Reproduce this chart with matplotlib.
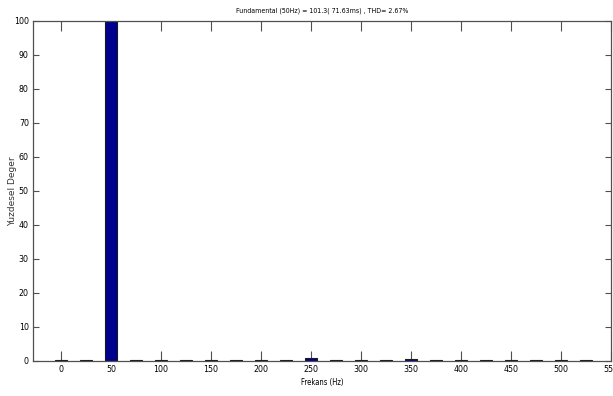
import matplotlib
matplotlib.use("Agg")
import matplotlib.pyplot as plt

freqs = [0, 25, 50, 75, 100, 125, 150, 175, 200, 225, 250, 275, 300, 325,
         350, 375, 400, 425, 450, 475, 500, 525]
values = [0.3, 0.2, 100.0, 0.2, 0.2, 0.2, 0.3, 0.2, 0.2, 0.2, 1.0, 0.2, 0.2, 0.2,
          0.6, 0.2, 0.2, 0.2, 0.2, 0.2, 0.2, 0.2]
xticks = list(range(0, 551, 50))
yticks = list(range(0, 101, 10))
title = "Fundamental (50Hz) = 101.3( 71.63ms) , THD= 2.67%"

fp = dict(fontfamily="DejaVu Sans", fontstretch="condensed")

fig = plt.figure(figsize=(6.13, 3.96), dpi=100)
ax = fig.add_axes([33/613, 35/396, 578/613, 340.3/396])
ax.set_axisbelow(True)

ax.bar(freqs, values, width=12.5, color="#00008F", edgecolor="#1a1a1a", linewidth=0.8,
       zorder=2)
ax.set_xlim(-28, 550)
ax.set_ylim(0, 100)
ax.set_xticks(xticks)
ax.set_yticks(yticks)
ax.set_xticklabels([str(t) for t in xticks], fontsize=6.3, **fp)
ax.set_yticklabels([str(t) for t in yticks], fontsize=6.3, **fp)
ax.tick_params(axis="x", direction="in", length=7, width=0.8, color="#505050",
               top=True, pad=3)
ax.tick_params(axis="y", direction="in", length=4.3, width=0.8, color="#505050",
               right=True, pad=3)
for s in ax.spines.values():
    s.set_color("#505050")
    s.set_linewidth(0.9)
    s.set_zorder(3)

ax.set_title(title, fontsize=5, pad=6, **fp)
ax.set_xlabel("Frekans (Hz)", fontsize=5.5, labelpad=3, **fp)
ax.set_ylabel("Yuzdesel Deger", fontfamily="DejaVu Sans", fontsize=6.5, color="#333333")
ax.yaxis.set_label_coords(-0.028, 0.5)

fig.savefig("out.png", dpi=100)
